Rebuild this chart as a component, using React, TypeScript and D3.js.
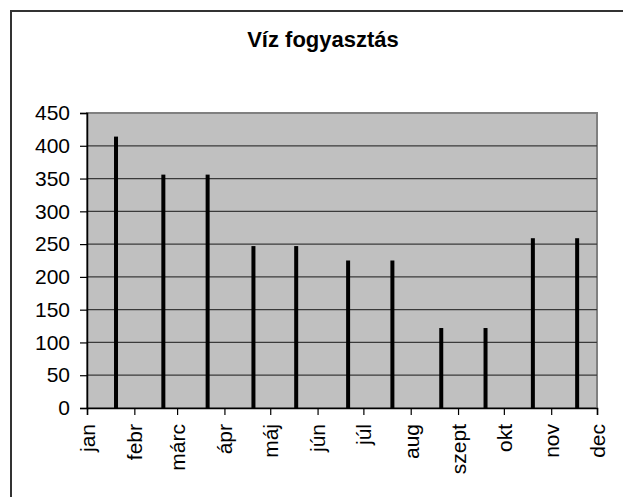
import { useEffect, useRef } from 'react';
import * as d3 from 'd3';

// Reading dates (approximate day of month)
const readingDates: string[] = [
  '2009-01-20', '2009-02-20', '2009-03-21', '2009-04-20', '2009-05-18', '2009-06-21',
  '2009-07-20', '2009-08-21', '2009-09-19', '2009-10-20', '2009-11-18',
];
const consumption: number[] = [414, 356, 356, 247, 247, 225, 225, 122, 122, 259, 259];
const monthLabels: string[] = ['jan', 'febr', 'márc', 'ápr', 'máj', 'jún', 'júl', 'aug', 'szept', 'okt', 'nov', 'dec'];
const yTicks: number[] = [0, 50, 100, 150, 200, 250, 300, 350, 400, 450];

export default function App() {
  const chartRef = useRef<SVGSVGElement>(null);

  useEffect(() => {
    if (!chartRef.current) return;
    const root = d3.select(chartRef.current);
    root.selectAll('*').remove();

    const width = 623;
    const height = 497;
    const margin = { top: 113, right: 26, bottom: 89, left: 87 };
    const chartWidth = width - margin.left - margin.right;
    const chartHeight = height - margin.top - margin.bottom;
    const font = 'Liberation Sans, Arial, sans-serif';

    root.attr('width', width).attr('height', height);

    // white background + outer border
    root.append('rect').attr('width', width).attr('height', height).attr('fill', '#fff');
    root.append('rect')
      .attr('x', 11).attr('y', 11)
      .attr('width', width + 10).attr('height', height + 10)
      .attr('fill', 'none').attr('stroke', '#333').attr('stroke-width', 2);

    root.append('text')
      .attr('x', 323).attr('y', 47)
      .attr('text-anchor', 'middle')
      .style('font-family', font)
      .style('font-size', '22px')
      .style('font-weight', 'bold')
      .text('Víz fogyasztás');

    const svg = root.append('g')
      .attr('transform', `translate(${margin.left},${margin.top})`);

    const parse = d3.timeParse('%Y-%m-%d');
    const data = readingDates.map((d, i) => ({ date: parse(d)!, value: consumption[i] }));
    const monthStarts = monthLabels.map((_, i) => new Date(2009, i, 1));

    const x = d3.scaleTime()
      .domain([monthStarts[0], monthStarts[monthStarts.length - 1]])
      .range([0, chartWidth]);

    const y = d3.scaleLinear()
      .domain([0, 450])
      .range([chartHeight, 0]);

    // plot background
    svg.append('rect')
      .attr('width', chartWidth).attr('height', chartHeight)
      .attr('fill', '#c0c0c0')
      .attr('stroke', '#808080').attr('stroke-width', 2);

    // gridlines
    svg.append('g')
      .selectAll('line')
      .data(yTicks.filter(t => t > 0 && t < 450))
      .join('line')
      .attr('x1', 0).attr('x2', chartWidth)
      .attr('y1', d => y(d)).attr('y2', d => y(d))
      .attr('stroke', '#3a3a3a').attr('stroke-width', 1.2);

    // bars
    svg.selectAll('.bar')
      .data(data)
      .join('rect')
      .attr('class', 'bar')
      .attr('x', d => x(d.date) - 2)
      .attr('width', 4)
      .attr('y', d => y(d.value))
      .attr('height', d => chartHeight - y(d.value))
      .attr('fill', '#000');

    // Y axis
    const yAxis = svg.append('g')
      .call(d3.axisLeft(y).tickValues(yTicks).tickSize(7).tickPadding(10).tickFormat(d3.format('d')));
    yAxis.select('.domain').attr('stroke', '#000').attr('stroke-width', 1.5);
    yAxis.selectAll('line').attr('stroke', '#000').attr('stroke-width', 1.2);
    yAxis.selectAll('text')
      .style('font-family', font)
      .style('font-size', '21px')
      .attr('fill', '#000');

    // X axis
    const xAxis = svg.append('g')
      .attr('transform', `translate(0,${chartHeight})`)
      .call(d3.axisBottom(x).tickValues(monthStarts).tickSize(7).tickFormat((_, i) => monthLabels[i]));
    xAxis.select('.domain').attr('stroke', '#000').attr('stroke-width', 1.5);
    xAxis.selectAll('line').attr('stroke', '#000').attr('stroke-width', 1.2);
    xAxis.selectAll('text')
      .attr('transform', 'rotate(-90)')
      .attr('x', -16)
      .attr('y', 0)
      .attr('dy', '0.35em')
      .style('text-anchor', 'end')
      .style('font-family', font)
      .style('font-size', '21px')
      .attr('fill', '#000');
  }, []);

  return (
    <svg ref={chartRef} style={{ position: 'absolute', left: 0, top: 0, display: 'block' }}></svg>
  );
}
